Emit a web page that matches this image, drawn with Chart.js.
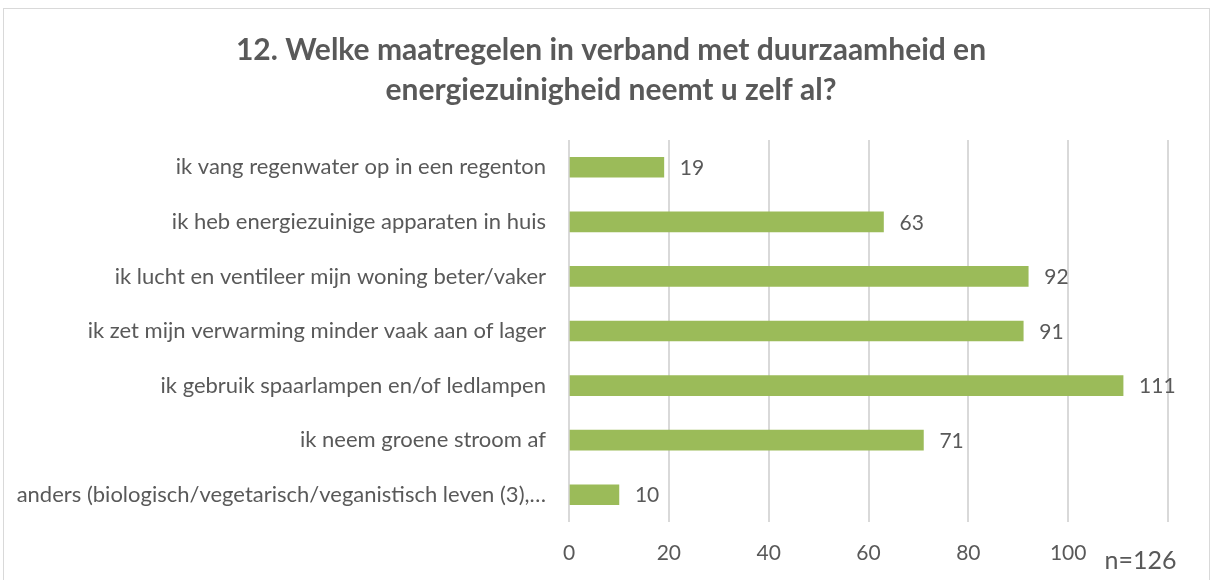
<!DOCTYPE html>
<html><head><meta charset="utf-8">
<script src="https://cdn.jsdelivr.net/npm/chart.js@4/dist/chart.umd.min.js"></script>
<style>html,body{margin:0;padding:0;background:#fff;}#wrap{position:absolute;left:0;top:0;width:1213px;height:580px;}</style>
</head><body><div id="wrap"><canvas id="c" width="1213" height="580"></canvas></div>
<script>
const titleLines = ["12. Welke maatregelen in verband met duurzaamheid en", "energiezuinigheid neemt u zelf al?"];
const categories = [
  "ik vang regenwater op in een regenton",
  "ik heb energiezuinige apparaten in huis",
  "ik lucht en ventileer mijn woning beter/vaker",
  "ik zet mijn verwarming minder vaak aan of lager",
  "ik gebruik spaarlampen en/of ledlampen",
  "ik neem groene stroom af",
  "anders (biologisch/vegetarisch/veganistisch leven (3),…"
];
const values = [19, 63, 92, 91, 111, 71, 10];
const xTicks = [0, 20, 40, 60, 80, 100, 120];
const noteText = "n=126";

const FONT = "Lato, 'Open Sans', sans-serif";
const TXT = "#595959";

const extras = {
  id: 'extras',
  beforeDraw(chart) {
    const ctx = chart.ctx;
    ctx.save();
    ctx.strokeStyle = '#d9d9d9';
    ctx.lineWidth = 1;
    ctx.strokeRect(3.5, 8.5, 1206, 620);
    ctx.fillStyle = TXT;
    ctx.font = "bold 30px " + FONT;
    ctx.textAlign = 'center';
    ctx.textBaseline = 'middle';
    ctx.fillText(titleLines[0], 611, 50);
    ctx.fillText(titleLines[1], 611, 90);
    ctx.restore();
  },
  afterDatasetsDraw(chart) {
    const ctx = chart.ctx;
    const meta = chart.getDatasetMeta(0);
    ctx.save();
    ctx.font = "21px " + FONT;
    ctx.fillStyle = TXT;
    ctx.textBaseline = 'middle';
    ctx.textAlign = 'left';
    meta.data.forEach((bar, i) => {
      ctx.fillText(String(values[i]), bar.x + 16, bar.y + 1);
    });
    const xs = chart.scales.x;
    ctx.font = "25px " + FONT;
    ctx.textAlign = 'center';
    ctx.fillText(noteText, xs.getPixelForValue(114.5), 561);
    ctx.restore();
  }
};

new Chart(document.getElementById('c'), {
  type: 'bar',
  data: { labels: categories, datasets: [{ data: values, backgroundColor: '#9BBB59', barThickness: 20 }] },
  options: {
    indexAxis: 'y',
    responsive: false,
    animation: false,
    layout: { padding: { top: 140, right: 45, bottom: 14, left: 10 } },
    plugins: {
      legend: { display: false },
      tooltip: { enabled: false },
      title: { display: false }
    },
    scales: {
      x: {
        min: 0, max: 120,
        afterBuildTicks(axis) { axis.ticks = xTicks.map(v => ({ value: v })); },
        afterFit(axis) { axis.height = 44; },
        grid: { color: '#d9d9d9', lineWidth: 2, drawTicks: false },
        border: { display: false },
        ticks: { color: TXT, font: { family: FONT, size: 21 }, padding: 19, callback: v => v === 120 ? '' : v }
      },
      y: {
        grid: { display: false },
        border: { display: false },
        afterFit(axis) { axis.width = 569 - 10; },
        ticks: { color: TXT, font: { family: FONT, size: 22 }, padding: 15, autoSkip: false }
      }
    }
  },
  plugins: [extras]
});
</script></body></html>
